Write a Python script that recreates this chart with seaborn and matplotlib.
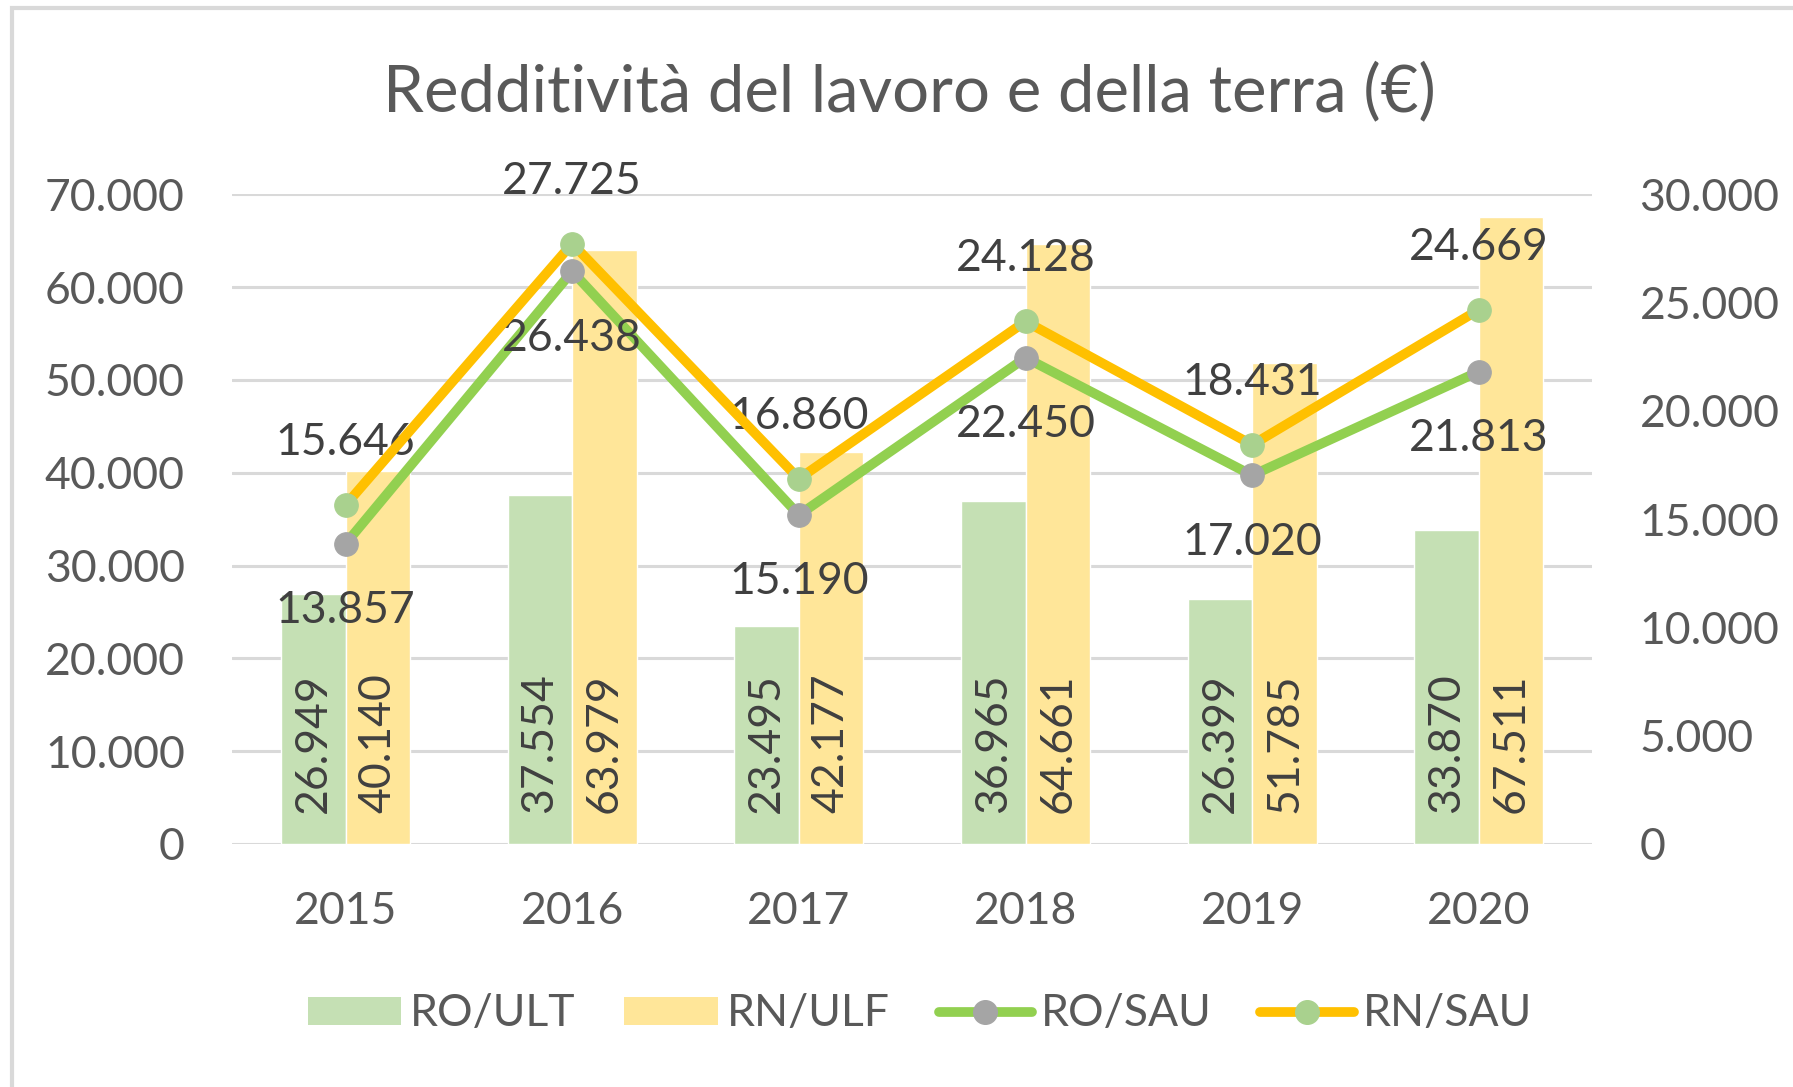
import numpy as np
import pandas as pd
import matplotlib.pyplot as plt
import seaborn as sns
from matplotlib.patches import Patch, Rectangle
from matplotlib.lines import Line2D

# ===================== dati =====================
anni = ["2015", "2016", "2017", "2018", "2019", "2020"]
ro_ult = [26949, 37554, 23495, 36965, 26399, 33870]
rn_ulf = [40140, 63979, 42177, 64661, 51785, 67511]
ro_sau = [13857, 26438, 15190, 22450, 17020, 21813]
rn_sau = [15646, 27725, 16860, 24128, 18431, 24669]

C_RO_ULT = "#C5E0B4"
C_RN_ULF = "#FFE699"
C_RO_SAU = "#92D050"
C_RN_SAU = "#FFC000"
M_RO_SAU = "#A5A5A5"
M_RN_SAU = "#A9D18E"
TXT = "#595959"
LBL = "#404040"

def fmt(v):
    return f"{v:,.0f}".replace(",", ".")

sns.set_theme(style="white")
plt.rcParams["font.family"] = ["Lato", "DejaVu Sans"]
FS = 32

fig = plt.figure(figsize=(17.93, 10.87), dpi=100)
ax = fig.add_axes([0.1295, 0.2236, 0.7585, 0.5977])

# cornice del grafico
fig.patches.append(Rectangle((0.0067, -0.05), 1.2, 1.0426, transform=fig.transFigure,
                             fill=False, edgecolor="#D9D9D9", linewidth=3))

# ===================== barre (asse sinistro) =====================
df_bar = pd.DataFrame({
    "anno": anni * 2,
    "valore": ro_ult + rn_ulf,
    "serie": ["RO/ULT"] * 6 + ["RN/ULF"] * 6,
})
sns.barplot(data=df_bar, x="anno", y="valore", hue="serie",
            palette={"RO/ULT": C_RO_ULT, "RN/ULF": C_RN_ULF},
            width=0.57, gap=0, saturation=1, ax=ax, legend=False, zorder=2)

for cont in ax.containers:
    for bar in cont:
        h = bar.get_height()
        ax.text(bar.get_x() + bar.get_width() / 2, 3300, fmt(h),
                rotation=90, ha="center", va="bottom", fontsize=FS, color=LBL, zorder=5)

ax.set_ylim(0, 70000)
ax.set_xlim(-0.5, 5.5)
ax.set_yticks(np.arange(0, 70001, 10000))
ax.set_yticklabels([fmt(v) for v in np.arange(0, 70001, 10000)])
ax.yaxis.grid(True, color="#D9D9D9", linewidth=2.2, zorder=0)
ax.set_axisbelow(True)
ax.set_xlabel("")
ax.set_ylabel("")
for s in ax.spines.values():
    s.set_visible(False)
ax.tick_params(axis="y", labelsize=FS, colors=TXT, length=0, pad=34)
ax.tick_params(axis="x", labelsize=FS, colors=TXT, length=0, pad=34)

# ===================== linee (asse destro) =====================
ax2 = ax.twinx()
x = np.arange(len(anni))
sns.lineplot(x=x, y=ro_sau, ax=ax2, color=C_RO_SAU, linewidth=7, marker="o",
             markersize=17, markerfacecolor=M_RO_SAU, markeredgecolor=M_RO_SAU, zorder=3)
sns.lineplot(x=x, y=rn_sau, ax=ax2, color=C_RN_SAU, linewidth=7, marker="o",
             markersize=17, markerfacecolor=M_RN_SAU, markeredgecolor=M_RN_SAU, zorder=4)

for xi, v in zip(x, rn_sau):
    ax2.annotate(fmt(v), (xi, v), xytext=(0, 45), textcoords="offset points",
                 ha="center", va="center", fontsize=FS, color=LBL)
for xi, v in zip(x, ro_sau):
    ax2.annotate(fmt(v), (xi, v), xytext=(0, -48), textcoords="offset points",
                 ha="center", va="center", fontsize=FS, color=LBL)

ax2.set_ylim(0, 30000)
ax2.set_xlim(-0.5, 5.5)
ax2.set_yticks(np.arange(0, 30001, 5000))
ax2.set_yticklabels([fmt(v) for v in np.arange(0, 30001, 5000)])
ax2.grid(False)
for s in ax2.spines.values():
    s.set_visible(False)
ax2.tick_params(axis="y", labelsize=FS, colors=TXT, length=0, pad=34)

# ===================== titolo e legenda =====================
fig.text(0.507, 1 - 92 / 1087, "Redditività del lavoro e della terra (€)",
         ha="center", va="center", fontsize=47, color=TXT)

handles = [
    Patch(facecolor=C_RO_ULT, edgecolor="none"),
    Patch(facecolor=C_RN_ULF, edgecolor="none"),
    Line2D([], [], color=C_RO_SAU, linewidth=7, marker="o", markersize=17,
           markerfacecolor=M_RO_SAU, markeredgecolor=M_RO_SAU),
    Line2D([], [], color=C_RN_SAU, linewidth=7, marker="o", markersize=17,
           markerfacecolor=M_RN_SAU, markeredgecolor=M_RN_SAU),
]
leg = fig.legend(handles, ["RO/ULT", "RN/ULF", "RO/SAU", "RN/SAU"], ncol=4,
                 loc="center", bbox_to_anchor=(0.513, 1 - 1014 / 1087), frameon=False,
                 fontsize=FS, handlelength=2.1, handleheight=0.6, handletextpad=0.2,
                 columnspacing=1.1)
for t in leg.get_texts():
    t.set_color(TXT)

fig.savefig("out.png", dpi=100)
